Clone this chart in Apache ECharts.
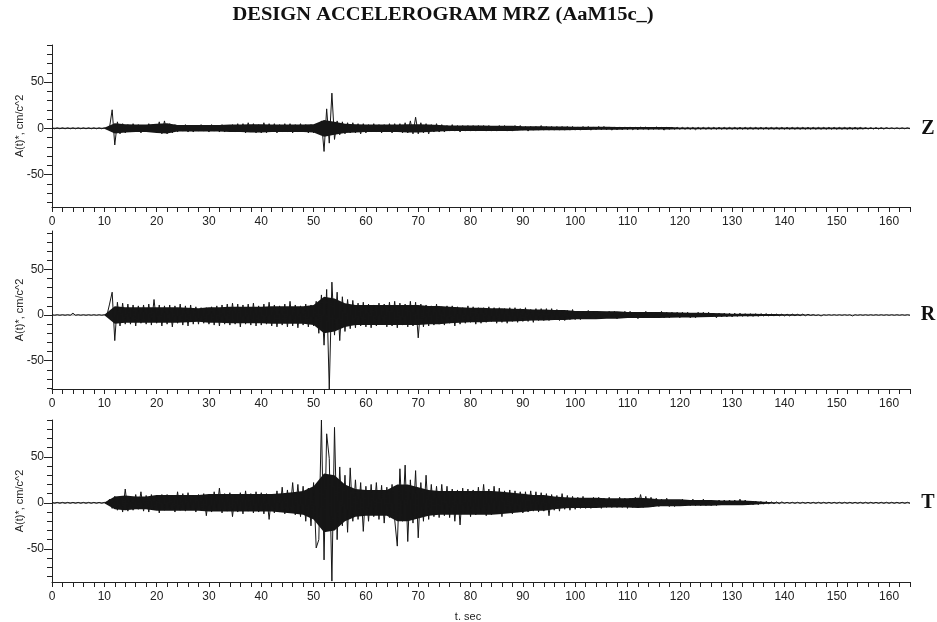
<!DOCTYPE html>
<html><head><meta charset="utf-8">
<script src="https://cdn.jsdelivr.net/npm/echarts@6/dist/echarts.min.js"></script>
<style>html,body{margin:0;padding:0;background:#fff}#c{width:937px;height:622px}</style>
</head><body><div id="c"></div><script>
const TITLE = 'DESIGN ACCELEROGRAM MRZ (AaM15c_)';
const COMPONENTS = ['Z', 'R', 'T'];
const Y_NAME = 'A(t)*, cm/c^2';
const X_NAME = 't. sec';
const T_START = 0, T_STEP = 0.5, T_MAX = 164;
const CORE_STEP = 2;
const xLabels = [0, 10, 20, 30, 40, 50, 60, 70, 80, 90, 100, 110, 120, 130, 140, 150, 160];
const yLabels = [-50, 0, 50];
const yTicks = [-80, -70, -60, -50, -40, -30, -20, -10, 0, 10, 20, 30, 40, 50, 60, 70, 80, 90];

// peak trace, samples every 0.5 s, one row = 5 s
const accZ = [
 0.5,-0.5,0.5,-0.5,0.5,-0.5,0.5,-0.5,0.5,-0.5,
 0.5,-0.5,0.5,-0.5,0.5,-0.5,0.5,-0.5,0.5,-0.5,
 0.5,-0.5,1,20,-18,7,-6,5,-5,4,
 -4,5,-3,4,-5,3,-4,5,-3,4,
 -5,7,-6,8,-6,5,-5,4,-4,3,
 -3,4,-4,3,-4,3,-3,4,-3,3,
 -4,4,-3,3,-4,4,-4,3,-3,4,
 -4,5,-4,5,-5,6,-4,5,-5,4,
 -5,6,-5,5,-4,5,-5,4,-4,5,
 -4,5,-5,4,-4,5,-4,4,-5,4,
 -5,4,-5,8,-25,21,-16,38,-12,8,
 -7,7,-6,6,-5,6,-5,5,-6,5,
 -5,4,-4,5,-4,4,-5,4,-4,5,
 -5,5,-4,5,-5,6,-5,8,-6,12,
 -6,6,-5,5,-6,4,-4,5,-4,4,
 -4,3,-3,4,-3,3,-4,3,-3,3,
 -3,3,-3,3,-2,3,-3,3,-3,2,
 -3,3,-2,3,-3,2,-3,3,-2,3,
 -2,2,-3,2,-2,2,-2,3,-2,2,
 -2,2,-2,2,-2,2,-2,2,-2,2,
 -2,1.5,-2,2,-1.5,2,-2,1.5,-1.5,2,
 -1.5,2,-1.5,1.5,-2,1.5,-1.5,1.5,-1.5,1.5,
 -1.5,1.5,-1.5,1,-1.5,1.5,-1,1.5,-1.5,1,
 -1,1.5,-1,1,-2,1,-1,1,-1,1,
 -1,1,-1,1,-1,1,-1.5,1,-1,1,
 -1,1,-1,1,-1,1,-1,1,-1,1,
 -1,1,-1,1,-1,1,-1,1,-1,1,
 -1,1,-1,1,-1,1,-1,1,-1,1,
 -1,1,-1,1,-1,1,-1,1,-1,1,
 -1,1,-1,1,-1,1,-1,1,-1,1,
 -1,1,-1,1,-1,1,-1,1,-1,1,
 -0.8,0.8,-0.8,0.8,-0.8,0.8,-0.8,0.8,-0.8,0.8,
 -0.5,0.5,-0.5,0.5,-0.5,0.5,-0.5,0.5,-0.5
];
const accR = [
 0.3,-0.3,0.3,-0.3,0.3,-0.3,0.3,-0.3,2,-0.3,
 0.3,-0.3,0.3,-0.3,0.3,-0.3,0.3,-0.3,0.3,-0.3,
 0.3,-0.3,12,25,-28,14,-12,13,-10,12,
 -10,11,-12,10,-9,11,-10,12,-11,17,
 -9,11,-12,10,-10,11,-13,10,-9,12,
 -11,10,-12,11,-10,9,-10,8,-9,8,
 -10,9,-11,10,-12,11,-10,12,-11,13,
 -10,12,-13,11,-10,12,-11,13,-12,10,
 -11,12,-10,14,-12,11,-13,10,-11,12,
 -13,15,-12,11,-14,10,-11,12,-13,11,
 -12,15,-20,22,-33,28,-81,36,-22,25,
 -28,20,-18,17,-15,16,-14,13,-12,14,
 -13,12,-14,11,-12,13,-10,12,-13,14,
 -12,15,-14,13,-11,12,-13,15,-12,14,
 -25,12,-13,11,-12,10,-11,12,-10,9,
 -11,10,-9,10,-12,9,-10,8,-9,10,
 -8,9,-10,8,-9,8,-8,9,-7,8,
 -9,8,-8,7,-9,8,-7,8,-8,7,
 -7,8,-7,6,-8,7,-6,7,-6,7,
 -6,7,-5,6,-6,5,-6,5,-5,6,
 -5,4,-5,4,-4,5,-4,4,-4,3,
 -4,3,-3,4,-3,4,-4,3,-3,4,
 -3,4,-3,3,-4,3,-3,4,-3,3,
 -3,3,-3,4,-3,3,-3,3,-2,3,
 -3,3,-2,3,-3,2,-3,3,-2,3,
 -2,3,-2,2,-3,2,-2,2,-2,2,
 -2,2,-1.5,2,-1.5,1.5,-1.5,1.5,-1.5,1.5,
 -1.5,1.5,-1,1.5,-1,1,-1,1,-1,1,
 -1,1,-1,1,-0.8,0.8,-0.8,1,-0.8,0.8,
 -0.5,0.5,-0.5,0.3,-1,0.3,-0.3,0.3,-0.3,0.3,
 -0.3,0.3,-0.3,0.3,-0.3,0.3,-1,0.3,-0.3,0.3,
 -0.3,0.3,-0.3,0.3,-0.3,0.3,-0.3,0.3,-0.3,0.3,
 -0.3,0.3,-0.3,0.3,-0.3,0.3,-0.3,0.3,-0.3
];
const accT = [
 0.5,-0.5,0.5,-0.5,0.5,-0.5,0.5,-0.5,0.5,-0.5,
 0.5,-0.5,0.5,-0.5,0.5,-0.5,0.5,-0.5,0.5,-0.5,
 0.5,-0.5,4,-6,7,-8,6,-10,15,-9,
 7,-8,9,-7,12,-9,8,-10,9,-7,
 8,-11,9,-8,9,-7,8,-10,12,-8,
 10,-9,11,-7,8,-10,9,-8,10,-14,
 9,-10,12,-8,16,-11,10,-9,11,-15,
 9,-10,11,-12,13,-9,10,-11,12,-10,
 11,-12,10,-18,9,-11,13,-10,17,-12,
 14,-11,22,-13,20,-15,18,-20,16,-25,
 22,-49,-40,90,-62,75,48,-85,82,-40,
 39,-25,30,-32,38,-20,25,-18,22,-31,
 18,-20,20,-15,22,-18,19,-22,17,-16,
 20,-18,-47,37,-20,41,-42,25,-22,35,
 -38,22,-20,30,-18,20,-15,18,-16,20,
 -14,18,-16,15,-20,14,-24,16,-12,15,
 -15,14,-13,17,-12,20,-14,15,-13,18,
 -12,16,-15,13,-11,14,-12,13,-10,12,
 -11,12,-10,13,-9,12,-10,11,-9,10,
 -14,9,-8,8,-9,10,-7,8,-8,7,
 -7,6,-6,7,-6,5,-6,6,-5,6,
 -6,5,-5,6,-5,4,-5,6,-5,5,
 -6,5,-5,6,-4,9,-5,7,-4,6,
 -4,5,-4,4,-3,5,-4,3,-4,3,
 -3,4,-3,3,-3,4,-3,3,-3,4,
 -3,3,-3,2,-3,3,-2,3,-2,3,
 -2,3,-2,4,-2,3,-2,2,-2,2,
 -2,1.5,-1.5,1.5,-1,1,-1,1,-1,1,
 -0.6,0.6,-0.6,0.6,-0.6,0.6,-0.6,0.6,-0.6,0.6,
 -0.6,0.6,-0.6,0.6,-0.6,0.6,-0.6,0.6,-0.6,0.6,
 -0.6,0.6,-0.6,0.6,-0.6,0.6,-0.6,0.6,-0.6,0.6,
 -0.6,0.6,-0.6,0.6,-0.6,0.6,-0.6,0.6,-0.6,0.6,
 -0.6,0.6,-0.6,0.6,-0.6,0.6,-0.6,0.6,-0.6
];

// half-width of the dense dark core of each trace, every 2 s (t = 0, 2, ... 164)
const coreZ = [
 0.5,0.5,0.5,0.5,0.5,0.5,
 5.5,4.5,4,4,5,5.5,3.5,3.5,3.5,3.5,
 3.5,4,4,4.5,4.5,4,4,4,4,4.5,
 9,7,5,4.5,4,4,4,4,4.5,4.5,
 4,3.5,3,3,3,3,2.8,2.8,2.8,2.3,
 2.3,2.2,2,2,
 1.7,1.7,1.6,1.6,1.5,1.3,1.3,1.3,1.3,1.3,
 1,1,1,1,1,1,1,1,1,1,1,1,1,1,1,1,1,1,
 0.7,0.7,0.6,0.6,0.6
];
const coreR = [
 0.3,0.3,0.3,0.3,0.3,0.3,
 9.5,8.5,8.5,8.5,8.5,8.5,8.5,8,7.5,8.5,
 8.5,9,9,9,9,9.5,9.5,9.5,9.5,11,
 20,18,13,11,11,11,11,11,11,11,
 10,10,9,8.5,8,8,7.5,7.5,7,6.5,
 6,6,5.5,5.5,4.5,4.5,4.5,4,4,3.2,
 3.2,3.2,3.2,3,2.8,2.6,2.5,2.3,2,1.5,
 1.4,1.3,1.1,1,0.9,0.8,0.6,0.4,0.3,0.3,
 0.3,0.3,0.3,0.3,0.3,0.3,0.3
];
const coreT = [
 0.5,0.5,0.5,0.5,0.5,0.5,
 7,8,7,7,8.5,8.5,8.5,8.5,8.5,9.5,
 9.5,9.5,9.5,9.5,9.5,9.5,10.5,11.5,13,18,
 32,30,20,15,14,14,14,20,20,17,
 14,13,13,13,13,13,13,12,11,10,
 8.5,8.5,7,6,5.5,5.5,5.5,5,5,5,
 5.5,5,3.8,3.8,3.8,3.2,3.2,3.2,2.6,2.6,
 2.6,2,1.3,0.7,0.5,0.5,0.5,0.5,0.5,0.5,
 0.5,0.5,0.5,0.5,0.5,0.5,0.5
];
const SERIES = [accZ, accR, accT];
const CORES = [coreZ, coreR, coreT];

// layout (styles)
const GRIDS = [
  {left: 52, right: 27, top: 45, height: 162, outerBoundsMode: 'none', containLabel: false},
  {left: 52, right: 27, top: 231, height: 158, outerBoundsMode: 'none', containLabel: false},
  {left: 52, right: 27, top: 420, height: 162, outerBoundsMode: 'none', containLabel: false}
];
const Y_RANGES = [[-85, 90], [-81, 92], [-86, 90]];
const LABEL_Y = [129, 315, 503];
const FONT = 'Liberation Sans, Arial, sans-serif';
const SERIF = 'Liberation Serif, Times New Roman, serif';
const INK = '#222';
const TRACE = '#161616';

const xTicks = [];
for (let v = 0; v <= T_MAX; v += 2) xTicks.push(v);

function coreRenderer(corePts) {
  return function (params, api) {
    if (params.dataIndex !== 0) return null;
    const up = corePts.map(p => api.coord([p[0], p[1]]));
    const dn = corePts.map(p => api.coord([p[0], -p[1]])).reverse();
    return {type: 'polygon', shape: {points: up.concat(dn)}, style: {fill: TRACE}};
  };
}

const chart = echarts.init(document.getElementById('c'), null, {renderer: 'canvas'});
const xAxis = [], yAxis = [], series = [];
GRIDS.forEach((g, i) => {
  xAxis.push({
    type: 'value', gridIndex: i, min: 0, max: T_MAX,
    axisLine: {show: true, onZero: false, lineStyle: {color: INK, width: 1}},
    axisTick: {show: true, customValues: xTicks, length: 5, lineStyle: {color: INK}},
    axisLabel: {customValues: xLabels, margin: 9, fontSize: 12, color: INK, fontFamily: FONT},
    splitLine: {show: false}
  });
  yAxis.push({
    type: 'value', gridIndex: i, min: Y_RANGES[i][0], max: Y_RANGES[i][1],
    name: Y_NAME, nameLocation: 'middle', nameGap: 27, nameMoveOverlap: false,
    nameTextStyle: {fontSize: 11, color: INK, fontFamily: FONT},
    axisLine: {show: true, lineStyle: {color: INK, width: 1}},
    axisTick: {show: true, customValues: yTicks, length: 5, lineStyle: {color: INK}},
    axisLabel: {customValues: yLabels, margin: 8, fontSize: 12, color: INK, fontFamily: FONT},
    splitLine: {show: false}
  });
  yAxis.push({
    type: 'value', gridIndex: i, min: Y_RANGES[i][0], max: Y_RANGES[i][1], position: 'left',
    axisLine: {show: false},
    axisTick: {show: true, customValues: yLabels, length: 8, lineStyle: {color: INK}},
    axisLabel: {show: false},
    splitLine: {show: false}
  });
  const pts = SERIES[i].map((v, k) => [T_START + k * T_STEP, v]);
  const corePts = CORES[i].map((c, k) => [T_START + k * CORE_STEP, c]);
  series.push({
    type: 'custom', coordinateSystem: 'cartesian2d', xAxisIndex: i, yAxisIndex: 2 * i,
    data: corePts, encode: {x: 0, y: 1}, renderItem: coreRenderer(corePts),
    clip: true, animation: false, silent: true
  });
  series.push({
    type: 'line', xAxisIndex: i, yAxisIndex: 2 * i, data: pts,
    showSymbol: false, symbol: 'none', sampling: null, clip: true, animation: false,
    lineStyle: {color: TRACE, width: 1}
  });
});

const graphic = [
  {type: 'text', x: 443, y: 15, scaleX: 1.14, style: {text: TITLE, font: 'bold 18px ' + SERIF, fill: '#111', textAlign: 'center', textVerticalAlign: 'middle'}},
  {type: 'text', x: 468, y: 617, style: {text: X_NAME, font: '11px ' + FONT, fill: INK, textAlign: 'center', textVerticalAlign: 'middle'}}
];
COMPONENTS.forEach((c, i) => {
  graphic.push({type: 'text', x: 928, y: LABEL_Y[i], style: {text: c, font: 'bold 20px ' + SERIF, fill: '#111', textAlign: 'center', textVerticalAlign: 'middle'}});
});

chart.setOption({
  backgroundColor: '#fff',
  animation: false,
  grid: GRIDS,
  xAxis, yAxis, series, graphic
});
</script></body></html>
